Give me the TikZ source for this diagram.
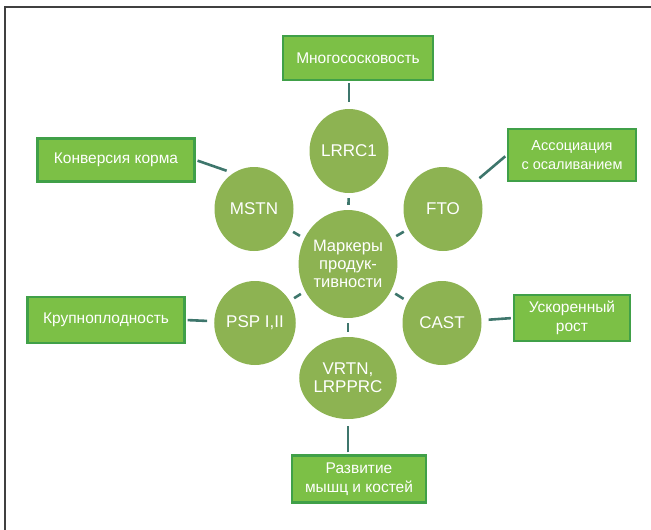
\documentclass[tikz,border=0pt]{standalone}
\usepackage{fontspec}
\setmainfont{Liberation Sans}
\usetikzlibrary{shapes.geometric}
\definecolor{MarkerGreen}{RGB}{141,179,82}
\definecolor{TraitGreen}{RGB}{124,192,70}
\definecolor{TraitEdge}{RGB}{64,160,72}
\definecolor{LinkTeal}{RGB}{62,118,108}

\begin{document}
\begin{tikzpicture}[
  x=1pt,y=-1pt,
  markernode/.style={ellipse,fill=MarkerGreen,inner sep=0pt,minimum width=79pt,minimum height=84pt,
    text=white,align=center,font=\fontsize{17}{18}\selectfont},
  traitnode/.style={rectangle,draw=TraitEdge,line width=2.4pt,fill=TraitGreen,inner sep=0pt,
    text=white,align=center,font=\fontsize{15.5}{19}\selectfont},
  ]
  \tikzset{%
    link/.style={
      color=LinkTeal,
      line width=2.6pt,
    },
  }
  \useasboundingbox (0,0) rectangle (651,530);
  % Frame
  \draw[line width=1.6pt,color=black!75] (5,530) -- (5,7) -- (651,7);
  %Nodes
  \node[markernode,minimum width=97pt,minimum height=108pt,font=\fontsize{16.5}{18}\selectfont](mp) at (348,264){Маркеры\\продук-\\тивности};
  \node[markernode](lrrc)  at (349,151){LRRC1};
  \node[markernode](mstn)  at (254,209){MSTN};
  \node[markernode](fto)   at (443,209){FTO};
  \node[markernode](psp)   at (255,323){PSP I,II};
  \node[markernode](cast)  at (442,323){CAST};
  \node[markernode,minimum height=82pt](vrtn) at (348,378){VRTN,\\LRPPRC};
  \node[traitnode,minimum width=150pt,minimum height=44pt](mnogo) at (358,58){Многососковость};
  \node[traitnode,minimum width=157pt,minimum height=43pt](konv)  at (116,160){Конверсия корма};
  \node[traitnode,minimum width=128pt,minimum height=52pt,font=\fontsize{14.5}{19}\selectfont](assoc) at (572,155){Ассоциация\\с осаливанием};
  \node[traitnode,minimum width=157pt,minimum height=46pt](krup)  at (106,320){Крупноплодность};
  \node[traitnode,minimum width=116pt,minimum height=46pt](uskor) at (572,318){Ускоренный\\рост};
  \node[traitnode,minimum width=134pt,minimum height=47pt](razv)  at (359,479){Развитие\\мышц и костей};
  %Lines
  \draw[link, shorten <=5pt, shorten >=5pt]
    (mp) edge (lrrc)
    (mp) edge (mstn)
    (mp) edge (fto)
    (mp) edge (psp)
    (mp) edge (cast)
    (mp) edge (vrtn)
    ;
  \draw[link, shorten <=2pt, shorten >=7pt]
    (mnogo.south -| lrrc) edge (lrrc)
    (konv.east) edge (mstn.120)
    (assoc.west) edge (fto)
    (krup.east) edge (psp)
    (uskor.west) edge (cast)
    (razv.north -| vrtn) edge (vrtn)
    ;
\end{tikzpicture}
\end{document}
